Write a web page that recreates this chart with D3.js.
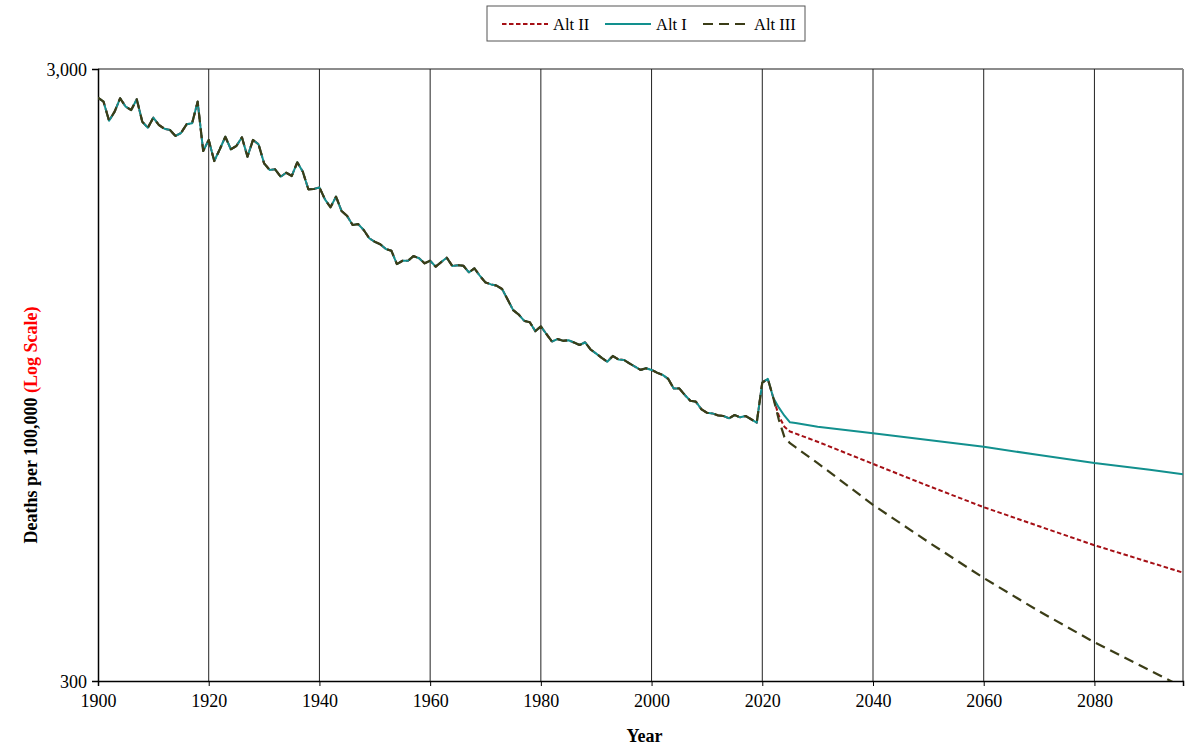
<!DOCTYPE html>
<html><head><meta charset="utf-8">
<script src="https://cdn.jsdelivr.net/npm/d3@7/dist/d3.min.js"></script>
<style>body{margin:0;background:#fff;}svg{display:block;font-family:"Liberation Serif","Times New Roman",serif;}</style>
</head><body><svg id="c" width="1194" height="746"></svg>
<script>
const histStart = 1900;
const histValues = [2693,2653,2470,2555,2687,2603,2571,2677,2460,2405,
 2498,2430,2396,2385,2332,2358,2436,2446,2653,2204,
 2297,2122,2218,2325,2218,2246,2320,2157,2297,2260,
 2104,2052,2057,2000,2031,2006,2112,2038,1908,1910,
 1922,1837,1783,1856,1758,1726,1668,1674,1637,1587,
 1566,1551,1524,1514,1440,1458,1458,1484,1472,1444,
 1458,1426,1451,1475,1430,1434,1431,1396,1417,1377,
 1344,1334,1328,1311,1260,1211,1191,1163,1157,1119,
 1139,1107,1076,1086,1079,1081,1072,1062,1073,1044,
 1028,1012,997,1019,1006,1004,991,979,967,973,
 967,957,949,935,902,902,880,861,858,834,
 823,821,815,813,806,816,809,813,803,793,
 922,935,870];
const altIYears   = [2023,2024,2025,2026,2030,2040,2050,2060,2070,2080,2090,2096];
const altIValues  = [839,814,794,792,781,762,743,724,702,681,664,653];
const altIIYears  = [2023,2024,2025,2030,2040,2050,2060,2070,2080,2096];
const altIIValues = [813,781,767,738,679,625,577,537,500,451];
const altIIIYears = [2023,2024,2025,2026,2030,2040,2050,2060,2070,2080,2096];
const altIIIValues= [801,751,734,723,681,582,506,442,390,347,293];
const xTicks = [1900,1920,1940,1960,1980,2000,2020,2040,2060,2080];
const yTicks = [300,3000];
const legendNames = ["Alt II","Alt I","Alt III"];

const hist = histValues.map((v,i)=>({x:histStart+i,y:v}));
function series(ys,vs){return hist.concat(ys.map((y,i)=>({x:y,y:vs[i]})));}
const data = [
 {name:"Alt II", pts:series(altIIYears,altIIValues), color:"#a50f15", dash:"4.5,2.5", w:2},
 {name:"Alt I", pts:series(altIYears,altIValues), color:"#12908e", dash:null, w:2},
 {name:"Alt III", pts:series(altIIIYears,altIIIValues), color:"#3b3d17", dash:"10,6", w:2.2}
];

const L=98,R=1183,T=69,B=681;
const FONT="'Liberation Serif','Times New Roman',serif";
const svg=d3.select("#c");
const x=d3.scaleLinear().domain([1900,2096]).range([L,R]);
const y=d3.scaleLog().domain([300,3000]).range([B,T]);

svg.append("defs").append("clipPath").attr("id","clip").append("rect")
 .attr("x",L).attr("y",T).attr("width",R-L).attr("height",B-T);

// plot border (top/right gray)
svg.append("line").attr("x1",L).attr("x2",R).attr("y1",T).attr("y2",T).attr("stroke","#8c8c8c").attr("stroke-width",2);
svg.append("line").attr("x1",R).attr("x2",R).attr("y1",T).attr("y2",B).attr("stroke","#8c8c8c").attr("stroke-width",2);

// vertical gridlines
svg.append("g").selectAll("line").data(xTicks.filter(d=>d>1900)).join("line")
 .attr("x1",d=>x(d)).attr("x2",d=>x(d)).attr("y1",T).attr("y2",B)
 .attr("stroke","#222").attr("stroke-width",1);

// axes
const xa=svg.append("g").attr("transform",`translate(0,${B})`)
 .call(d3.axisBottom(x).tickValues(xTicks).tickFormat(d3.format("d")).tickSize(5).tickPadding(8));
const ya=svg.append("g").attr("transform",`translate(${L},0)`)
 .call(d3.axisLeft(y).tickValues(yTicks).tickFormat(d3.format(",")).tickSize(6).tickPadding(5));
[xa,ya].forEach(a=>{
 a.select(".domain").attr("stroke","#000").attr("stroke-width",1.5);
 a.selectAll(".tick line").attr("stroke","#000");
 a.selectAll("text").attr("font-family",FONT).attr("font-size",18).attr("fill","#000");
});
ya.selectAll("text").attr("dy","0.35em");

// lines
const line=d3.line().x(d=>x(d.x)).y(d=>y(d.y));
svg.append("g").attr("clip-path","url(#clip)").selectAll("path").data(data).join("path")
 .attr("d",d=>line(d.pts)).attr("fill","none")
 .attr("stroke",d=>d.color).attr("stroke-width",d=>d.w)
 .attr("stroke-dasharray",d=>d.dash).attr("stroke-linejoin","round");

// axis titles
svg.append("text").attr("x",(L+R)/2+4).attr("y",742).attr("text-anchor","middle")
 .attr("font-weight","bold").attr("font-size",18).text("Year");
const yt=svg.append("text").attr("transform","translate(37,425) rotate(-90)").attr("text-anchor","middle")
 .attr("font-weight","bold").attr("font-size",18);
yt.append("tspan").attr("fill","#000").text("Deaths per 100,000 ");
yt.append("tspan").attr("fill","#ff0000").text("(Log Scale)");

// legend
const lg=svg.append("g");
lg.append("rect").attr("x",487).attr("y",6).attr("width",318).attr("height",35)
 .attr("fill","#fff").attr("stroke","#555").attr("stroke-width",1);
const lx=[502,605,703];
const byName=Object.fromEntries(data.map(d=>[d.name,d]));
legendNames.forEach((n,i)=>{
 const d=byName[n];
 lg.append("line").attr("x1",lx[i]).attr("x2",lx[i]+46).attr("y1",24).attr("y2",24)
  .attr("stroke",d.color).attr("stroke-width",2).attr("stroke-dasharray",d.dash);
 lg.append("text").attr("x",lx[i]+51).attr("y",29.5).attr("font-size",16.5).text(n);
});
</script></body></html>
